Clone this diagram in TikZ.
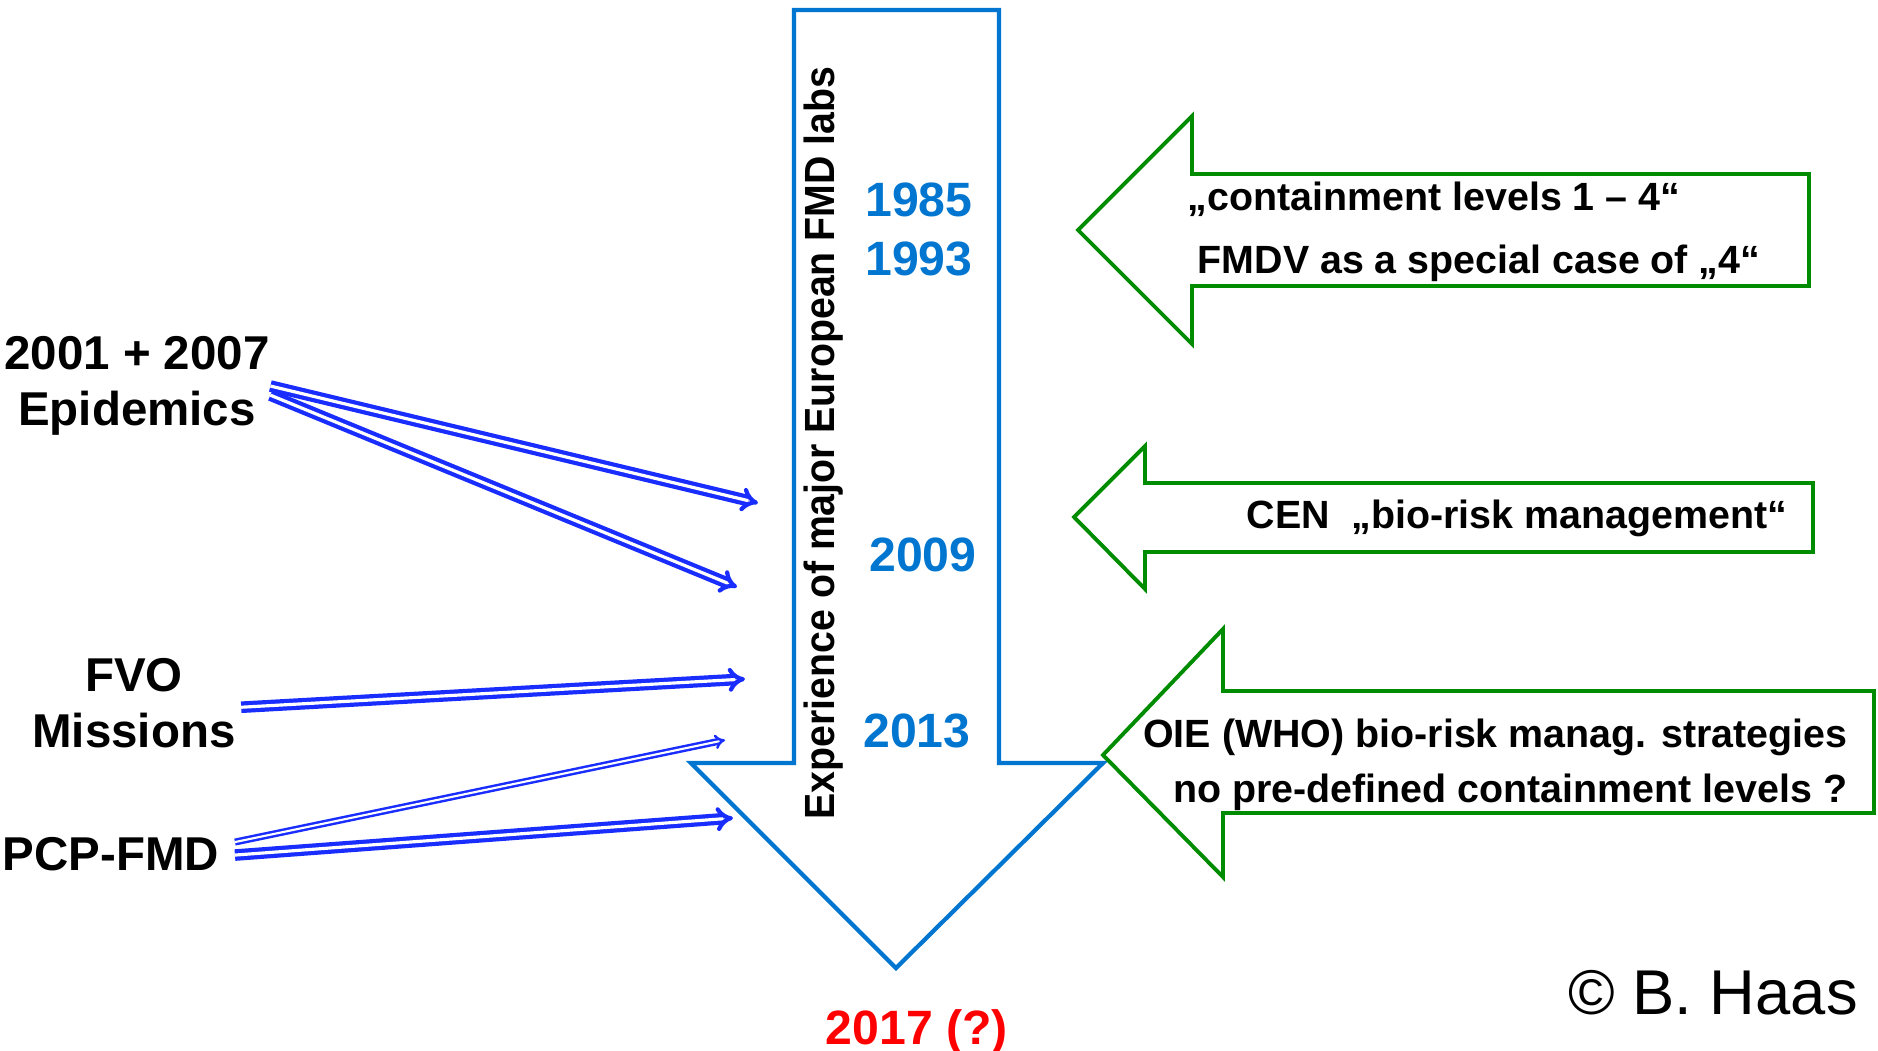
\documentclass[tikz,border=0pt]{standalone}
\usepackage{fontspec}
\setmainfont{Liberation Sans}
\usepackage{graphicx}
\usetikzlibrary{arrows.meta}
\definecolor{labblue}{RGB}{0,118,208}
\definecolor{feedblue}{RGB}{25,45,255}
\definecolor{normgreen}{RGB}{0,140,0}
\tikzset{
  year/.style={font=\bfseries\fontsize{13.7}{16}\selectfont, text=labblue, inner sep=0pt},
  source/.style={font=\bfseries\fontsize{13.5}{16}\selectfont, align=center, inner sep=0pt},
  norm/.style={font=\bfseries\fontsize{11.2}{13}\selectfont, inner sep=0pt},
  feed/.style={draw=feedblue, double=white, line width=1.2pt, double distance=0.9pt, -{Implies}},
  feedthin/.style={feed, line width=0.7pt, double distance=0.6pt},
  normarrow/.style={draw=normgreen, fill=white, line width=1.1pt}
}
\begin{document}
\begin{tikzpicture}[x=0.01cm, y=-0.01cm]
	\useasboundingbox (0,0) rectangle (1878,1050);

	\draw[labblue, line width=1.2pt, fill=white] (794,10) -- (999,10) -- (999,763) -- (1103,763) -- (896,968) -- (691,763) -- (794,763) -- cycle;
	\node[rotate=90, font=\bfseries\fontsize{12}{14}\selectfont, inner sep=0pt] (exp) at (824,443) {\scalebox{0.93}[1]{Experience of major European FMD labs}};
	\node[year] (y85) at (919,200) {1985};
	\node[year] (y93) at (919,259) {1993};
	\node[year] (y09) at (923,555) {2009};
	\node[year] (y13) at (917,731) {2013};
	\node[year, text=red] (y17) at (917,1032) {2017 (?)};

	\draw[normarrow] (1809,174) -- (1192,174) -- (1192,116) -- (1078,230) -- (1192,344) -- (1192,286) -- (1809,286) -- cycle;
	\draw[normarrow] (1813,483) -- (1145,483) -- (1145,446) -- (1074,517) -- (1145,589) -- (1145,552) -- (1813,552) -- cycle;
	\draw[normarrow] (1874,691) -- (1223,691) -- (1223,629) -- (1103,755) -- (1223,877) -- (1223,813) -- (1874,813) -- cycle;
	\node[norm, anchor=base west] (cl) at (1187,210) {„containment levels 1 – 4“};
	\node[norm, anchor=base west] (fmdv) at (1197,273) {FMDV as a special case of „4“};
	\node[norm, anchor=base east] (cen) at (1788,528) {CEN\ \ „bio-risk management“};
	\node[norm, anchor=base east] (oie) at (1848,747) {OIE (WHO) bio-risk manag. strategies};
	\node[norm, anchor=base east] (nopre) at (1848,802) {no pre-defined containment levels ?};

	\node[source] (epi) at (137,386) {2001 + 2007\\Epidemics};
	\node[source] (fvo) at (134,703) {FVO\\Missions};
	\node[source] (pcp) at (111,854) {PCP-FMD};
	\coordinate (inA) at (758,503);
	\coordinate (inB) at (737,587);
	\coordinate (inC) at (745,679);
	\coordinate (inD) at (725,740);
	\coordinate (inE) at (733,818);
	\draw[feed] ([yshift=0pt]epi.east) -- (inA);
	\draw[feed] ([yshift=-2.6pt]epi.east) -- (inB);
	\draw[feed] ([xshift=1.4pt, yshift=-1.2pt]fvo.east) -- (inC);
	\draw[feedthin] ([xshift=4.3pt, yshift=3.4pt]pcp.east) -- (inD);
	\draw[feed] ([xshift=4.3pt, yshift=-0.3pt]pcp.east) -- (inE);

	\node[font=\fontsize{18}{20}\selectfont, inner sep=0pt] (haas) at (1713,993) {© B. Haas};
\end{tikzpicture}
\end{document}
